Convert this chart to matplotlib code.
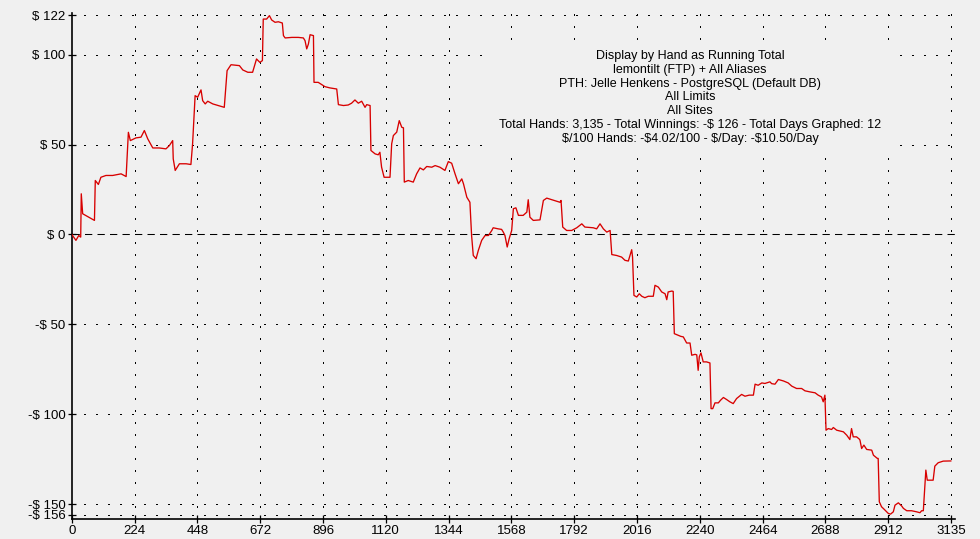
import matplotlib
matplotlib.use("Agg")
import matplotlib.pyplot as plt
from matplotlib.patches import Rectangle

# ---- data ----
hands = [0, 15, 25, 32, 34, 39, 81, 84, 95, 104, 122, 146, 176, 194, 202, 209, 229, 247, 259, 271,
         289, 312, 336, 348, 360, 362, 369, 384, 408, 425, 431, 440, 449, 461, 467, 476, 485, 503, 544, 554,
         568, 598, 610, 628, 645, 659, 671, 680, 683, 695, 705, 713, 725, 737, 751, 755, 761, 785, 808, 826,
         832, 838, 844, 850, 862, 864, 879, 903, 921, 945, 951, 969, 986, 998, 1010, 1022, 1034, 1046, 1052, 1064,
         1067, 1082, 1093, 1099, 1105, 1114, 1135, 1141, 1147, 1159, 1168, 1177, 1183, 1186, 1200, 1218, 1230, 1242, 1254, 1266,
         1284, 1296, 1313, 1331, 1343, 1355, 1367, 1379, 1391, 1397, 1409, 1420, 1426, 1432, 1442, 1450, 1462, 1474, 1486, 1498,
         1503, 1521, 1533, 1539, 1545, 1553, 1560, 1569, 1575, 1584, 1593, 1610, 1623, 1628, 1634, 1646, 1670, 1682, 1694, 1712,
         1741, 1745, 1751, 1765, 1783, 1801, 1819, 1830, 1860, 1872, 1884, 1896, 1908, 1920, 1926, 1943, 1961, 1973, 1985, 1991,
         1997, 2000, 2005, 2015, 2024, 2033, 2044, 2056, 2074, 2080, 2092, 2104, 2116, 2122, 2127, 2140, 2145, 2149, 2163, 2172,
         2181, 2193, 2205, 2211, 2223, 2229, 2234, 2238, 2244, 2252, 2264, 2276, 2280, 2286, 2294, 2306, 2314, 2324, 2336, 2347,
         2359, 2371, 2389, 2401, 2416, 2431, 2437, 2448, 2461, 2472, 2490, 2496, 2508, 2520, 2538, 2555, 2568, 2585, 2603, 2615,
         2633, 2651, 2662, 2674, 2680, 2686, 2690, 2698, 2710, 2716, 2728, 2752, 2764, 2775, 2781, 2787, 2799, 2809, 2811, 2817,
         2825, 2835, 2853, 2859, 2873, 2876, 2880, 2888, 2898, 2912, 2920, 2930, 2936, 2948, 2960, 2966, 2978, 2995, 3013, 3025,
         3031, 3037, 3046, 3051, 3072, 3078, 3090, 3108, 3135]
winnings = [0, -3.3, -0.6, -1.5, 22.6, 11.5, 7.8, 30, 27.8, 31.8, 32.8, 32.8, 33.7, 32.2, 56.8, 52.2, 53.7, 54.1, 57.8, 53.2,
            48.1, 48.1, 47.6, 49.4, 52.2, 42, 35.6, 39.3, 39.3, 38.9, 50.4, 77.2, 76.3, 80.4, 74.4, 72.6, 74.1, 72.6, 70.7, 91.1,
            94.4, 93.9, 91.5, 90.2, 90.2, 97.6, 95.7, 96.7, 119.8, 119.8, 121.7, 119.3, 118, 118.3, 117.6, 110.6, 109.3, 109.6, 109.6, 109.3,
            107.8, 103.2, 105.9, 111.1, 110.6, 84.6, 84.6, 82.2, 81.5, 80.9, 72.2, 71.7, 72, 73, 74.8, 73, 74.1, 70.7, 72.2, 71.7,
            46.7, 44.8, 44.3, 45.7, 37.4, 31.8, 31.8, 50.4, 55, 56.9, 63.3, 59.6, 59.3, 29.1, 30, 29.1, 33.7, 37, 35.9, 37.8,
            37.4, 38.3, 37.4, 35.6, 40.5, 39.6, 33.7, 28.2, 30.9, 28.2, 20.7, 17.9, -0.6, -11.7, -13.5, -8.9, -3.3, -0.6, -0.6, 2.2,
            3.7, 3.1, 2.8, 1.3, -0.6, -7.0, -2.4, 2.2, 14.3, 14.8, 10.6, 10.6, 12.4, 19.3, 9.6, 7.8, 8.1, 18.9, 20.2, 19.3,
            17.9, 18.9, 4.1, 2.2, 2.2, 3.7, 5.9, 4.1, 3.7, 3.1, 5.9, 3.1, 1.3, 2.2, -11.2, -11.7, -12.6, -14.4, -14.8, -11.7,
            -8.5, -12.6, -33.9, -34.8, -33, -34.4, -35.2, -34.4, -34.4, -28.3, -29.3, -32, -33, -36.3, -32, -31.5, -31.7, -55.2, -56.1, -56.7,
            -57, -60.4, -60.4, -67.2, -66.7, -67, -75.6, -68.1, -65.9, -70.9, -70.9, -71.5, -96.9, -96.9, -93.7, -93.7, -92.2, -90.7, -91.9, -93.1,
            -94.1, -91.3, -89.0, -90, -89.4, -89.4, -83.3, -83.9, -82.6, -82.9, -82, -83, -83.3, -80.7, -81.5, -82.6, -84.4, -85.7, -85.7, -87,
            -87.6, -88.1, -89.4, -90.4, -93.1, -89.4, -108.9, -108, -108.5, -107.4, -108.9, -109.8, -111.7, -114.1, -108, -112.6, -112.6, -113.9, -114.4, -119.1,
            -117.2, -119.6, -120, -122.8, -124.6, -124.6, -148.7, -151.5, -153, -155.2, -155.6, -154.3, -150.6, -149.3, -151.1, -152.4, -153.7, -153.7, -154.3, -154.8,
            -153.7, -153.7, -131.1, -136.7, -136.7, -128.9, -127, -126.1, -126]

x_ticks = [0, 224, 448, 672, 896, 1120, 1344, 1568, 1792, 2016, 2240, 2464, 2688, 2912, 3135]
y_ticks = [122, 100, 50, 0, -50, -100, -150, -156]
y_tick_labels = ["$ 122", "$ 100", "$ 50", "$ 0", "-$ 50", "-$ 100", "-$ 150", "-$ 156"]

info_lines = [
    "Display by Hand as Running Total",
    "lemontilt (FTP) + All Aliases",
    "PTH: Jelle Henkens - PostgreSQL (Default DB)",
    "All Limits",
    "All Sites",
    "Total Hands: 3,135 - Total Winnings: -$ 126 - Total Days Graphed: 12",
    "$/100 Hands: -$4.02/100 - $/Day: -$10.50/Day",
]

plt.rcParams['font.family'] = ['Liberation Sans', 'DejaVu Sans']
plt.rcParams['text.parse_math'] = False
BG = '#f0f0f0'

fig = plt.figure(figsize=(9.8, 5.39), dpi=100, facecolor=BG)
ax = fig.add_axes([0.0732, 0.0371, 0.9013, 0.9382])
ax.set_facecolor(BG)

ax.set_xlim(0, 3150)
ax.set_ylim(-158.3, 123)

# grid
for yv in y_ticks:
    if yv == 0:
        ax.axhline(yv, color='black', lw=0.75, linestyle=(0, (7, 5)), zorder=1)
    else:
        ax.axhline(yv, color='black', lw=0.75, linestyle=(0, (1.2, 10.5)), zorder=1, antialiased=False)
for xv in x_ticks[1:]:
    ax.axvline(xv, color='black', lw=0.75, linestyle=(0, (1.2, 10.5)), zorder=1, antialiased=False)

# opaque panel behind the info text (hides the grid there)
ax.add_patch(Rectangle((482 / 980, 1 - 148 / 539), 416 / 980, 104 / 539,
                       transform=fig.transFigure, facecolor=BG, edgecolor='none', zorder=2))

ax.plot(hands, winnings, color='#d80000', lw=0.95, zorder=3)

ax.set_xticks(x_ticks)
ax.set_xticklabels([str(v) for v in x_ticks])
ax.set_yticks(y_ticks)
ax.set_yticklabels(y_tick_labels)
ax.tick_params(axis='both', direction='inout', length=6, width=0.9, colors='black', labelsize=9.5, pad=1.5)

for s in ['top', 'right']:
    ax.spines[s].set_visible(False)
for s in ['left', 'bottom']:
    ax.spines[s].set_color('black')
    ax.spines[s].set_linewidth(1.2)

fig.text(690 / 980, 1 - 50 / 539, "\n".join(info_lines), ha='center', va='top',
         fontsize=9, linespacing=1.2, color='black', zorder=4)

fig.savefig("out.png", dpi=100, facecolor=BG)
